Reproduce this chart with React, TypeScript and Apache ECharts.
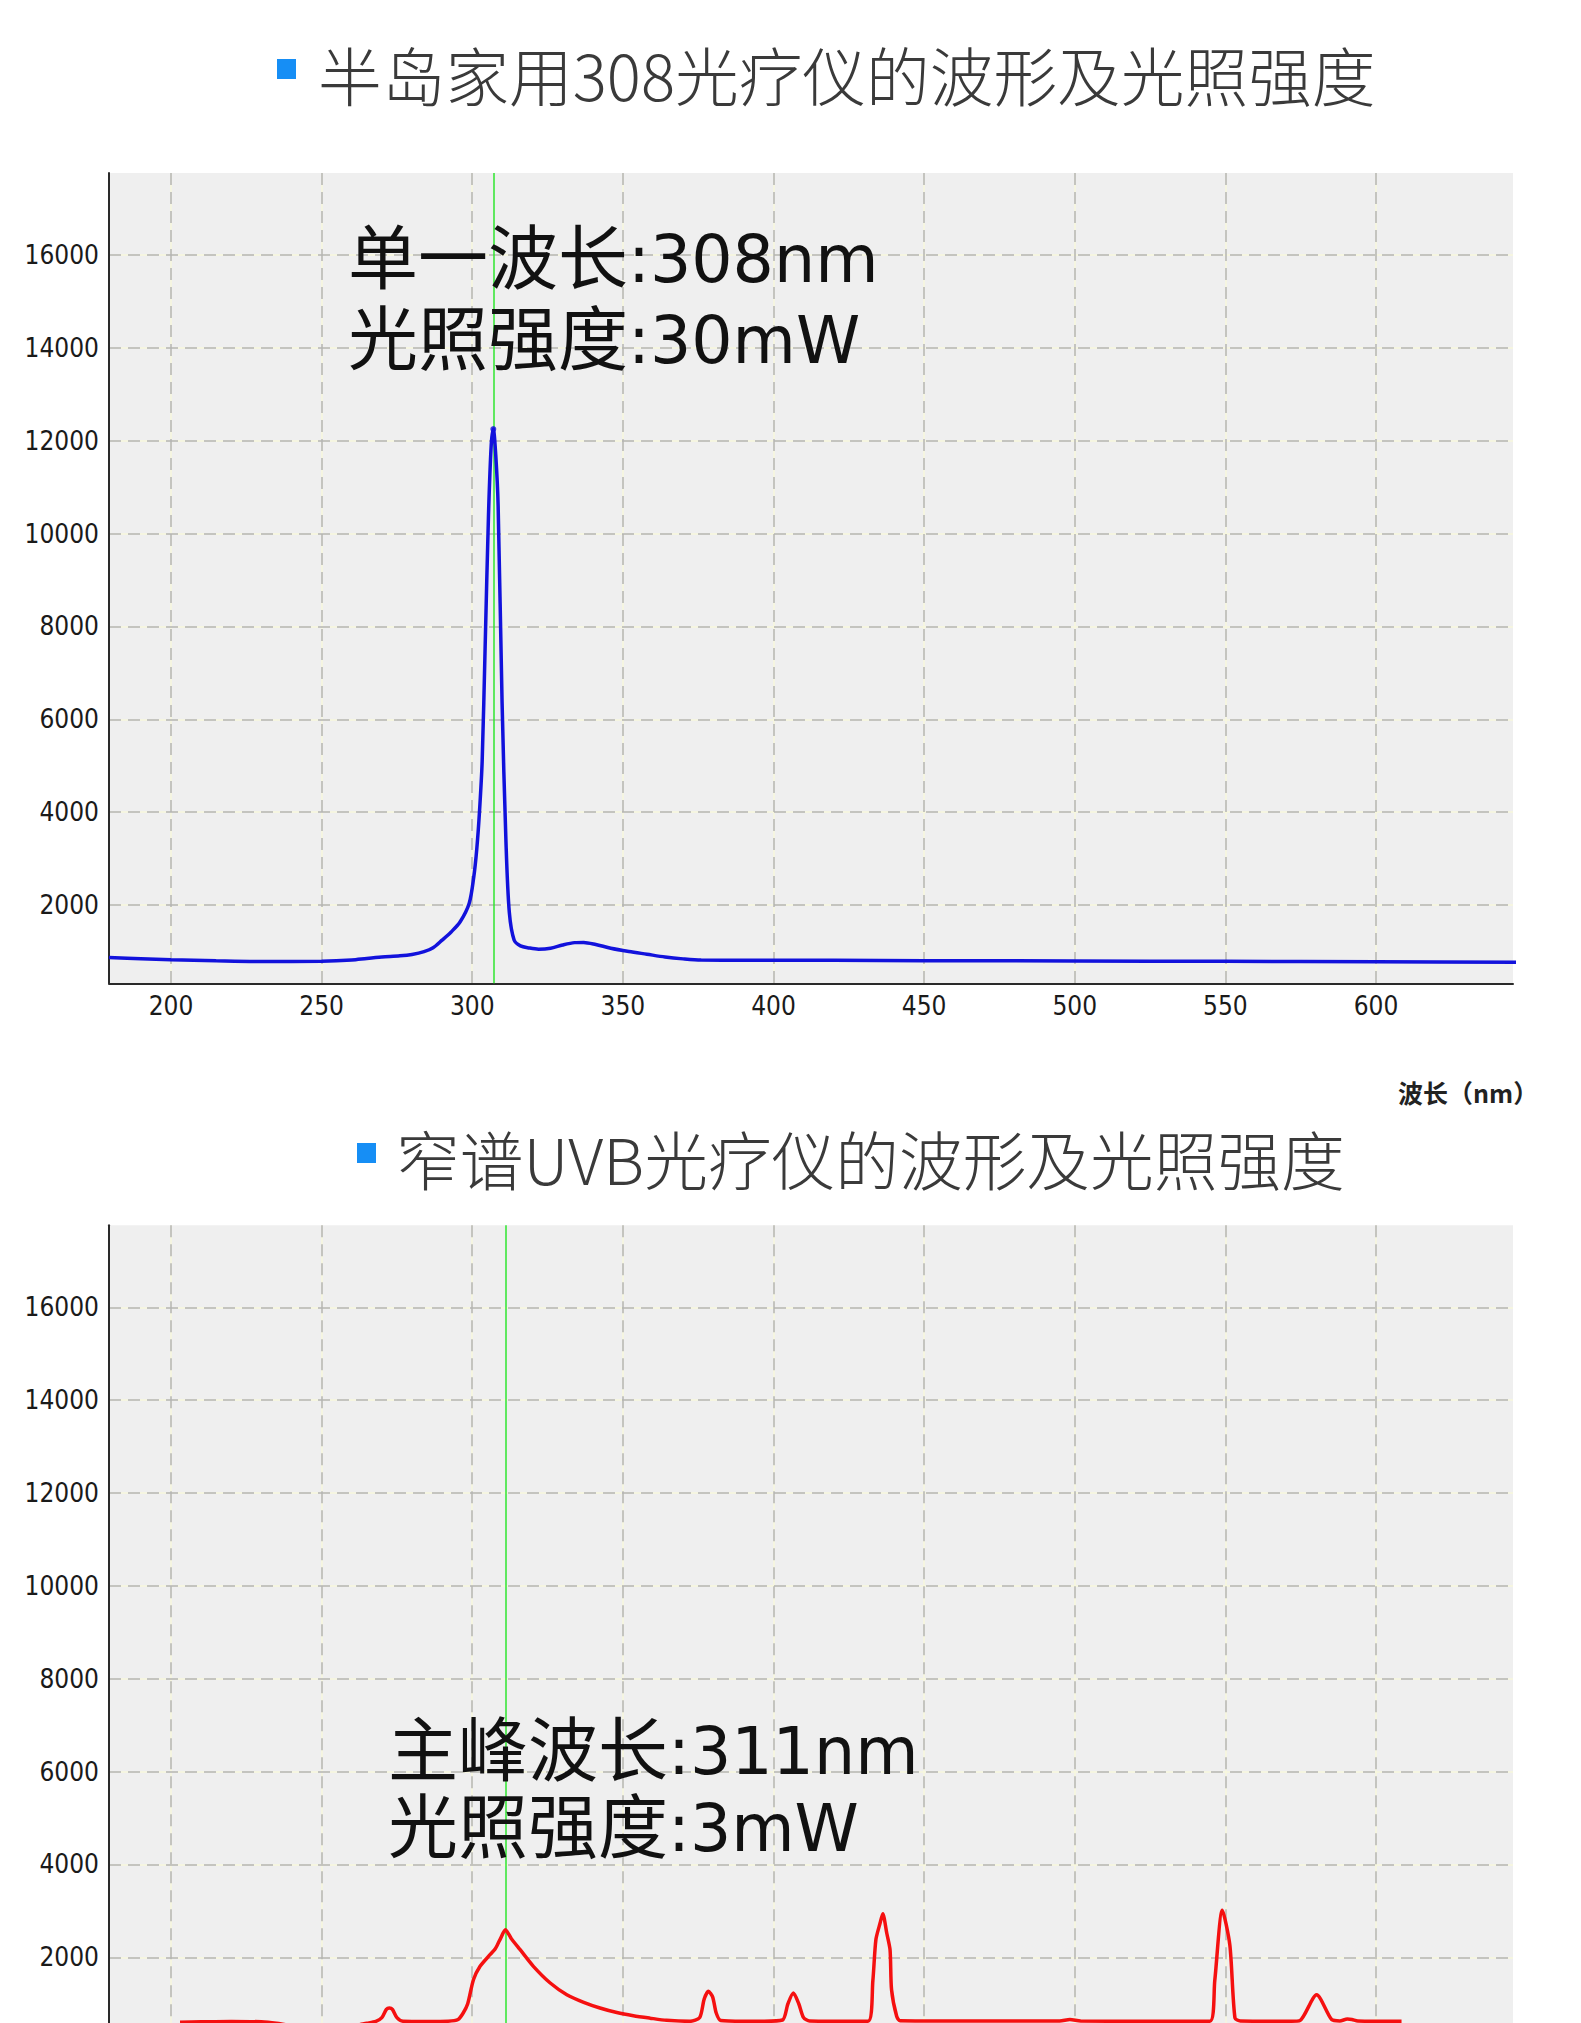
import React, { useEffect, useRef } from "react";
import * as echarts from "echarts";

// ---- data ----
const xTicks = [200, 250, 300, 350, 400, 450, 500, 550, 600];
const yTicks = [2000, 4000, 6000, 8000, 10000, 12000, 14000, 16000];

const title1 = "半岛家用308光疗仪的波形及光照强度";
const title2 = "窄谱UVB光疗仪的波形及光照强度";
const note1Cjk = ["单一波长", "光照强度"];
const note1Lat = [":308nm", ":30mW"];
const note2Cjk = ["主峰波长", "光照强度"];
const note2Lat = [":311nm", ":3mW"];
const xAxisName = "波长（nm）";

const peak1Nm = 307;
const peak2Nm = 311;

const blueNm = [
  179.4, 190, 200, 215, 230, 250, 260, 265, 270, 276, 280, 284, 287, 290, 293, 296, 299, 300.5,
  301.5, 302.4, 303.3, 304.3, 305.4, 306.3, 307, 307.8, 308.6, 309.9, 311.2, 312.3, 313.9, 316, 319,
  322, 326, 330, 334, 337, 341, 346, 352, 358, 364, 370, 376, 390, 420, 450, 500, 550, 600, 646.8,
];
const blueVal = [
  870, 845, 822, 800, 785, 790, 815, 850, 880, 905, 935, 995, 1080, 1245, 1420, 1640, 2040, 2600,
  3200, 4000, 5100, 7600, 10400, 11900, 12250, 11700, 10600, 6380, 3357, 1850, 1245, 1120, 1075,
  1050, 1070, 1140, 1190, 1195, 1150, 1070, 1000, 940, 880, 840, 815, 812, 808, 802, 795, 788, 780, 765,
];
const bluePeak = [[307, 12250]];

const redNm = [
  203, 210, 220, 230, 235, 240, 250, 260, 265, 268, 270, 271.5, 272.5, 273.5, 275, 277, 285, 292,
  295.3, 297, 298.5, 300.4, 302.6, 305.9, 307.5, 308.3, 309.5, 311, 313, 315.9, 320.3, 325.9, 331.4,
  337, 342.4, 348, 353.5, 359, 364.5, 372.3, 375.5, 377, 378.4, 379.8, 381, 382.5, 390, 397, 403,
  404.8, 406.6, 408.4, 410, 412, 420, 431.4, 433, 434, 435.4, 436.3, 437.6, 438.7, 439.2, 440.9,
  442, 460, 480, 495, 498.4, 502, 520, 544.9, 546.5, 549, 551.5, 553.2, 555, 572, 574.8, 580.3,
  585.3, 588, 590.5, 592, 594, 600, 608.5,
];
const redVal = [
  600, 610, 620, 610, 580, 530, 510, 520, 580, 620, 700, 880, 910, 880, 700, 625, 620, 625,
  660, 800, 1000, 1518, 1806, 2056, 2170, 2260, 2420, 2595, 2400, 2164, 1806, 1446, 1194,
  1030, 908, 810, 742, 690, 643, 622, 700, 1100, 1268, 1150, 800, 640, 625, 625, 650,
  1000, 1231, 1000, 700, 630, 625, 625, 1500, 2380, 2738, 2940, 2524, 2164, 1302, 730,
  635, 630, 628, 628, 660, 628, 625, 625, 1500, 3012, 2265, 693, 630, 625, 640, 1194,
  660, 630, 670, 660, 630, 625, 625,
];

// ---- layout ----
const W = 1581;
const H = 2023;
const CHART_H = 2070;
const X_MIN = 179.42;
const X_MAX = 645.5;
const Y_MIN = 314;
const Y_MAX = 17766;
const NUM_FONT = "'DejaVu Sans Condensed', 'DejaVu Sans', sans-serif";
const CJK_FONT = "'Noto Sans CJK SC', 'Noto Sans', sans-serif";
const LAT_FONT = "'DejaVu Sans', sans-serif";

function mainX(gridIndex: number, showLabel: boolean) {
  return {
    type: "value",
    gridIndex,
    min: X_MIN,
    max: X_MAX,
    position: "bottom",
    z: 2,
    axisLine: { show: true, onZero: false, lineStyle: { color: "#2a2a2a", width: 2 } },
    axisTick: { show: false, customValues: xTicks },
    axisLabel: {
      show: showLabel,
      customValues: xTicks,
      formatter: (v: number) => String(v),
      fontSize: 26,
      color: "#1a1a1a",
      fontFamily: NUM_FONT,
      margin: 10,
    },
    splitLine: { show: true, lineStyle: { color: "#b4b4b4", width: 1.5, type: [12, 7] } },
  };
}
function paleX(gridIndex: number) {
  return {
    type: "value",
    gridIndex,
    min: X_MIN,
    max: X_MAX,
    position: "top",
    z: 1,
    axisLine: { show: false },
    axisTick: { show: false, customValues: xTicks },
    axisLabel: { show: false, customValues: xTicks },
    splitLine: { show: true, lineStyle: { color: "#f7f7dc", width: 1.5, type: "solid" } },
  };
}
function mainY(gridIndex: number) {
  return {
    type: "value",
    gridIndex,
    min: Y_MIN,
    max: Y_MAX,
    position: "left",
    z: 2,
    axisLine: { show: true, onZero: false, lineStyle: { color: "#2a2a2a", width: 2 } },
    axisTick: { show: false, customValues: yTicks },
    axisLabel: {
      customValues: yTicks,
      formatter: (v: number) => String(v),
      fontSize: 26,
      color: "#1a1a1a",
      fontFamily: NUM_FONT,
      margin: 10,
    },
    splitLine: { show: true, lineStyle: { color: "#b4b4b4", width: 1.5, type: [12, 7] } },
  };
}
function paleY(gridIndex: number) {
  return {
    type: "value",
    gridIndex,
    min: Y_MIN,
    max: Y_MAX,
    position: "right",
    z: 1,
    axisLine: { show: false },
    axisTick: { show: false, customValues: yTicks },
    axisLabel: { show: false, customValues: yTicks },
    splitLine: { show: true, lineStyle: { color: "#f7f7dc", width: 1.5, type: "solid" } },
  };
}

function markLineAt(x: number) {
  return {
    symbol: "none",
    silent: true,
    label: { show: false },
    lineStyle: { color: "#2fe62f", width: 1.5, type: "solid" },
    data: [{ xAxis: x }],
  };
}

function titleGraphics(sqX: number, sqY: number, textX: number, textY: number, text: string) {
  return [
    { type: "rect", shape: { x: sqX, y: sqY, width: 19, height: 20 }, style: { fill: "#168ef5" } },
    {
      type: "text",
      x: textX,
      y: textY,
      style: {
        text,
        fontSize: 63.7,
        fontWeight: 300,
        fontFamily: CJK_FONT,
        fill: "#3a3a3a",
        textAlign: "left",
        textVerticalAlign: "middle",
      },
    },
  ];
}

function noteGraphic(x: number, firstCenter: number, lh: number, cjk: string[], lat: string[]) {
  const text = cjk.map((c, i) => `{c|${c}}{l|${lat[i]}}`).join("\n");
  return {
    type: "text",
    x,
    y: firstCenter - lh / 2,
    z: 50,
    style: {
      text,
      textAlign: "left",
      textVerticalAlign: "top",
      fill: "#111111",
      rich: {
        c: { fontSize: 70, fontFamily: CJK_FONT, fill: "#111111", lineHeight: lh },
        l: { fontSize: 65, fontFamily: LAT_FONT, fill: "#111111", lineHeight: lh, padding: [12, 0, 0, 0] },
      },
    },
  };
}

export default function App() {
  const ref = useRef<HTMLDivElement>(null);
  useEffect(() => {
    document.body.style.margin = "0";
    if (!ref.current) return;
    const chart = echarts.init(ref.current, undefined, { renderer: "svg" });
    const gridH = 810.3;
    chart.setOption({
      animation: false,
      backgroundColor: "#ffffff",
      grid: [
        { left: 109, top: 173, width: 1404, height: gridH, show: true, backgroundColor: "#efefef", borderWidth: 0 },
        { left: 109, top: 1225.3, width: 1404, height: gridH, show: true, backgroundColor: "#efefef", borderWidth: 0 },
      ],
      xAxis: [mainX(0, true), mainX(1, false), paleX(0), paleX(1)],
      yAxis: [mainY(0), mainY(1), paleY(0), paleY(1)],
      series: [
        {
          type: "line",
          xAxisIndex: 0,
          yAxisIndex: 0,
          data: blueNm.map((x, i) => [x, blueVal[i]]),
          symbol: "none",
          smooth: 0.3,
          clip: false,
          z: 5,
          lineStyle: { color: "#1212dc", width: 3.5 },
          markLine: markLineAt(peak1Nm),
        },
        {
          type: "scatter",
          xAxisIndex: 0,
          yAxisIndex: 0,
          data: bluePeak,
          symbol: "circle",
          symbolSize: 6,
          z: 6,
          itemStyle: { color: "#1212dc" },
        },
        {
          type: "line",
          xAxisIndex: 1,
          yAxisIndex: 1,
          data: redNm.map((x, i) => [x, redVal[i]]),
          symbol: "none",
          smooth: 0.25,
          z: 5,
          lineStyle: { color: "#f51010", width: 3.5 },
          markLine: markLineAt(peak2Nm),
        },
      ],
      graphic: [
        ...titleGraphics(277, 59, 318, 72.5, title1),
        ...titleGraphics(357, 1143, 396, 1157, title2),
        noteGraphic(348, 253, 81, note1Cjk, note1Lat),
        noteGraphic(388, 1745, 77, note2Cjk, note2Lat),
        {
          type: "text",
          x: 1398,
          y: 1092,
          style: {
            text: xAxisName,
            fontSize: 25,
            fontWeight: "bold",
            fontFamily: CJK_FONT,
            fill: "#222222",
            textAlign: "left",
            textVerticalAlign: "middle",
          },
        },
      ],
    });
    return () => chart.dispose();
  }, []);
  return (
    <div style={{ width: W, height: H, overflow: "hidden", position: "relative" }}>
      <div ref={ref} style={{ width: W, height: CHART_H }} />
    </div>
  );
}
